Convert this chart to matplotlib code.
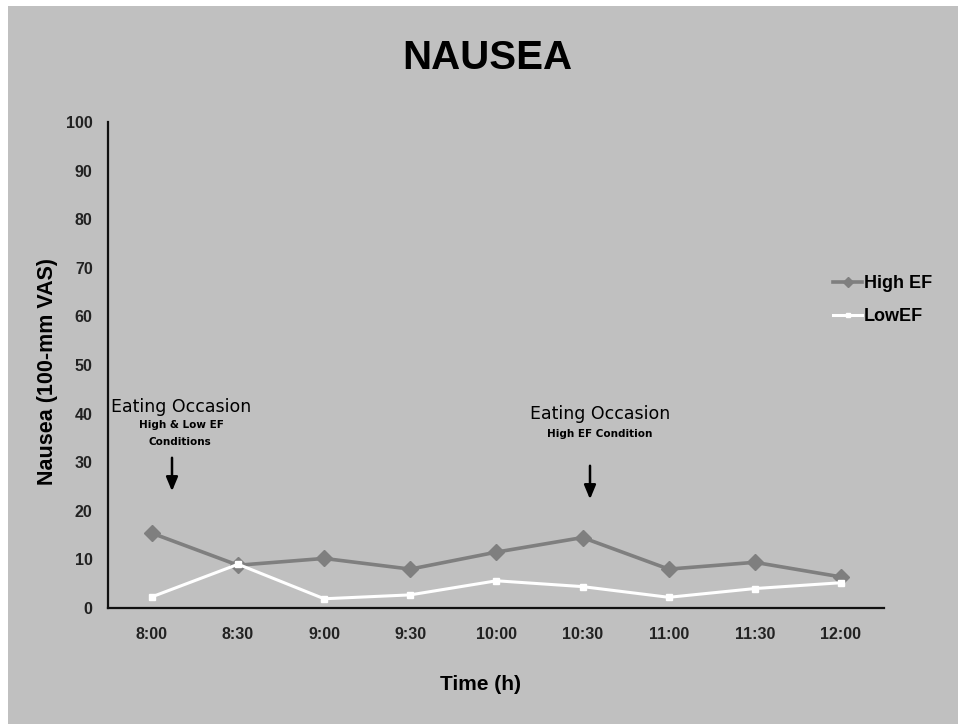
import numpy as np
import matplotlib
matplotlib.use("Agg")
import matplotlib.pyplot as plt
from matplotlib.patches import Rectangle, FancyArrowPatch

times = ["8:00", "8:30", "9:00", "9:30", "10:00", "10:30", "11:00", "11:30", "12:00"]
high_ef = [15.4, 8.8, 10.2, 8.0, 11.5, 14.5, 8.0, 9.4, 6.4]
low_ef = [2.3, 9.0, 1.9, 2.7, 5.6, 4.4, 2.2, 4.0, 5.2]
yticks = list(range(0, 101, 10))

W, H = 958, 724
BG = "#c0c0c0"
plt.rcParams["font.family"] = ["Liberation Sans", "DejaVu Sans"]


def px(x, y):
    return x / W, 1 - y / H


fig = plt.figure(figsize=(W / 100, H / 100), dpi=100, facecolor="white")
fig.patches.append(Rectangle(px(8, H), (W - 8) / W, (H - 6) / H, transform=fig.transFigure,
                             facecolor=BG, edgecolor="none", zorder=-10))

ax = fig.add_axes([108 / W, 1 - 608 / H, (884 - 108) / W, (608 - 122) / H])
ax.set_facecolor("none")
x = np.arange(len(times))
ax.plot(x, high_ef, color="#7f7f7f", lw=2.6, marker="D", ms=8, label="High EF", zorder=3)
ax.plot(x, low_ef, color="white", lw=2.2, marker="s", ms=5, label="LowEF", zorder=4)

ax.set_xlim(-0.51, 8.5)
ax.set_ylim(0, 100)
ax.set_yticks(yticks)
ax.set_xticks(x, times)
for s in ["top", "right"]:
    ax.spines[s].set_visible(False)
for s in ["left", "bottom"]:
    ax.spines[s].set_linewidth(1.6)
    ax.spines[s].set_color("#111111")
ax.tick_params(axis="y", length=0, pad=11, labelsize=11.5)
ax.tick_params(axis="x", length=0, pad=14, labelsize=11.5)
for t in ax.get_xticklabels() + ax.get_yticklabels():
    t.set_fontweight("bold")
    t.set_color("#222222")

ax.set_xlabel("Time (h)", fontsize=15, fontweight="bold")
ax.set_ylabel("Nausea (100-mm VAS)", fontsize=15.5, fontweight="bold")
ax.xaxis.set_label_coords(0.48, -0.138)
ax.yaxis.set_label_coords(-0.064, 0.486)

fig.text(*px(487, 58), "NAUSEA", fontsize=29, fontweight="bold", ha="center", va="center")

leg = ax.legend(loc="center left", bbox_to_anchor=(px(826, 300)[0], px(0, 300)[1]),
                bbox_transform=fig.transFigure, frameon=False, fontsize=13,
                handlelength=1.6, handletextpad=0.1, labelspacing=0.9, borderaxespad=0,
                markerscale=0.7)
for t in leg.get_texts():
    t.set_fontweight("bold")

# eating occasion annotations
fig.text(*px(181, 407), "Eating Occasion", fontsize=12.5, ha="center", va="center",
         family="DejaVu Sans")
fig.text(*px(181, 425), "High & Low EF", fontsize=7.5, ha="center", va="center",
         fontweight="bold", family="DejaVu Sans")
fig.text(*px(180, 442), "Conditions", fontsize=7.5, ha="center", va="center",
         fontweight="bold", family="DejaVu Sans")
fig.text(*px(600, 414), "Eating Occasion", fontsize=12.5, ha="center", va="center",
         family="DejaVu Sans")
fig.text(*px(600, 434), "High EF Condition", fontsize=7.5, ha="center", va="center",
         fontweight="bold", family="DejaVu Sans")
for ax_x, y0, y1 in [(172, 455, 494), (590, 463, 502)]:
    fig.add_artist(FancyArrowPatch(
        px(ax_x, y0), px(ax_x, y1), transform=fig.transFigure,
        arrowstyle="-|>,head_length=0.6,head_width=0.25", mutation_scale=14,
        color="black", lw=1.8))

fig.savefig("out.png", dpi=100, facecolor="white")
